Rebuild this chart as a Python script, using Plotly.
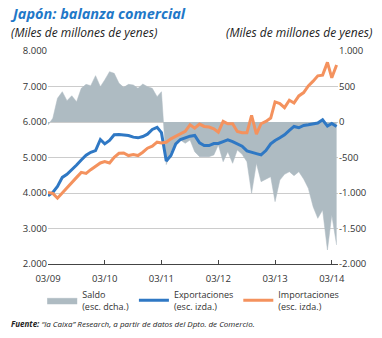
import pandas as pd
import plotly.graph_objects as go

# Monthly data, Mar 2009 - Apr 2014 (miles de millones de yenes)
months = pd.date_range("2009-03-01", "2014-04-01", freq="MS")

exportaciones = [3921, 4015, 4185, 4440, 4525, 4648, 4789, 4931, 5063, 5148,
                 5195, 5507, 5384, 5479, 5639, 5649, 5639, 5620, 5573, 5554,
                 5592, 5658, 5790, 5850, 5700, 4900, 5054, 5384, 5507, 5554,
                 5601, 5620, 5412, 5337, 5337, 5393, 5394, 5450, 5498, 5450,
                 5375, 5318, 5186, 5158, 5110, 5073, 5195, 5384, 5479, 5554,
                 5639, 5762, 5875, 5838, 5904, 5923, 5942, 5970, 6064, 5885,
                 5960, 5875]

importaciones = [4015, 3987, 3854, 3996, 4157, 4270, 4440, 4581, 4553, 4657,
                 4742, 4846, 4884, 4846, 5007, 5120, 5129, 5054, 5082, 5054,
                 5148, 5261, 5318, 5431, 5412, 5431, 5526, 5592, 5658, 5734,
                 5923, 5828, 5942, 5875, 5857, 5809, 5715, 6017, 5951, 5951,
                 5734, 5696, 5696, 6187, 5658, 5951, 6017, 6111, 6565, 6518,
                 6404, 6612, 6537, 6735, 6829, 7018, 7150, 7301, 7320, 7679,
                 7245, 7604]

saldo = [-42, 52, 333, 427, 300, 370, 286, 474, 530, 512,
         653, 498, 592, 709, 685, 545, 488, 530, 521, 474,
         535, 498, 474, 357, 427, -600, -418, -286, -254, -300,
         -254, -418, -488, -488, -488, -465, -324, -559, -418, -582,
         -394, -455, -559, -1005, -582, -840, -803, -770, -1122, -817,
         -737, -700, -756, -700, -803, -934, -1193, -1357, -1240, -1803,
         -1310, -1732]

x_tickvals = ["2009-03-01", "2010-03-01", "2011-03-01", "2012-03-01", "2013-03-01", "2014-03-01"]
x_ticktext = ["03/09", "03/10", "03/11", "03/12", "03/13", "03/14"]
left_vals = [2000, 3000, 4000, 5000, 6000, 7000, 8000]
left_text = ["2.000", "3.000", "4.000", "5.000", "6.000", "7.000", "8.000"]
right_vals = [-2000, -1500, -1000, -500, 0, 500, 1000]
right_text = ["-2.000", "-1.500", "-1.000", "-500", "0", "500", "1.000"]

FONT = "Open Sans"
GRAY_TXT = "#333333"

fig = go.Figure()
# Saldo on the base axis (right side) so the lines (overlay axis) draw on top
fig.add_trace(go.Scatter(
    x=months, y=saldo, yaxis="y", mode="lines", fill="tozeroy",
    line=dict(color="#aebbc2", width=0.5), fillcolor="#aebbc2",
    name="Saldo<br>(esc. dcha.)"))
fig.add_trace(go.Scatter(
    x=months, y=exportaciones, yaxis="y2", mode="lines",
    line=dict(color="#2f78c4", width=3), name="Exportaciones<br>(esc. izda.)"))
fig.add_trace(go.Scatter(
    x=months, y=importaciones, yaxis="y2", mode="lines",
    line=dict(color="#f4925e", width=3), name="Importaciones<br>(esc. izda.)"))

fig.update_layout(
    width=382, height=338,
    margin=dict(l=48, r=44, t=51, b=74),
    paper_bgcolor="white", plot_bgcolor="white",
    font=dict(family=FONT, size=9, color=GRAY_TXT),
    showlegend=True,
    legend=dict(orientation="h", x=-0.02, y=-0.085, xanchor="left", yanchor="top",
                font=dict(size=9, color=GRAY_TXT), itemwidth=30,
                traceorder="normal", tracegroupgap=0),
    xaxis=dict(type="date", range=["2009-03-01", "2014-04-10"],
               tickvals=x_tickvals, ticktext=x_ticktext,
               showgrid=False, showline=True, linecolor="#444444", linewidth=1,
               ticks="inside", ticklen=4, tickcolor="#444444", ticklabelstandoff=6,
               tickfont=dict(size=9.5, color=GRAY_TXT), zeroline=False),
    yaxis=dict(range=[-2000, 1000], tickvals=right_vals, ticktext=right_text,
               side="right", showgrid=True, gridcolor="#cccccc", gridwidth=1,
               zeroline=False, showline=False, ticks="",
               tickfont=dict(size=9.5, color=GRAY_TXT)),
    yaxis2=dict(range=[2000, 8000], tickvals=left_vals, ticktext=left_text,
                overlaying="y", side="left", showgrid=False, zeroline=False,
                showline=False, ticks="", tickfont=dict(size=9.5, color=GRAY_TXT)),
)

fig.add_annotation(text="<b><i>Japón: balanza comercial</i></b>", xref="paper", yref="paper",
                   x=0, xshift=-40, y=1, yshift=49, xanchor="left", yanchor="top",
                   showarrow=False, font=dict(size=14.5, color="#1f78c8", family=FONT))
fig.add_annotation(text="<i>(Miles de millones de yenes)</i>", xref="paper", yref="paper",
                   x=0, xshift=-39, y=1, yshift=29, xanchor="left", yanchor="top",
                   showarrow=False, font=dict(size=12, color="#222222", family=FONT))
fig.add_annotation(text="<i>(Miles de millones de yenes)</i>", xref="paper", yref="paper",
                   x=1, xshift=36, y=1, yshift=29, xanchor="right", yanchor="top",
                   showarrow=False, font=dict(size=12, color="#222222", family=FONT))
fig.add_annotation(text="<b><i>Fuente:</i></b><i> \u201cla Caixa\u201d Research, a partir de datos del Dpto. de Comercio.</i>",
                   xref="paper", yref="paper", x=0, xshift=-39, y=0, yshift=-52,
                   xanchor="left", yanchor="top", showarrow=False,
                   font=dict(size=8, color="#222222", family=FONT))

fig.write_html("out.html")
